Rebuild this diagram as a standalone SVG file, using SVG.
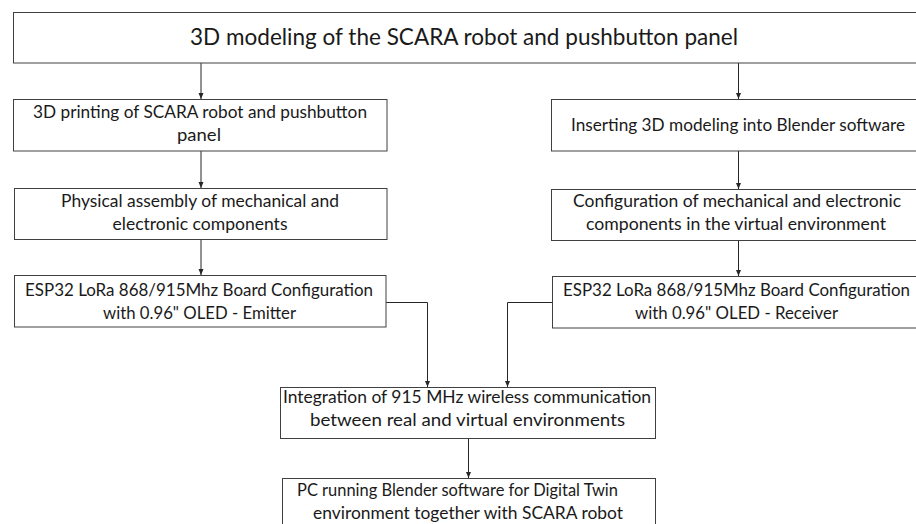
<svg xmlns="http://www.w3.org/2000/svg" width="916" height="524" viewBox="0 0 916 524">
<defs>
<style>
.box{fill:#fff;stroke:#404040;stroke-width:1}
.t{font-family:Lato,"Open Sans","Liberation Sans",sans-serif;font-size:16.5px;fill:#1a1a1a;text-anchor:middle}
.title{font-size:23px}
.c{fill:none;stroke:#262626;stroke-width:1}
</style>
<marker id="ah" markerUnits="userSpaceOnUse" markerWidth="6" markerHeight="6" viewBox="0 0 6 6" refX="6" refY="3" orient="auto">
<path d="M0,0.5 L6,3 L0,5.5 Z" fill="#262626"/>
</marker>
</defs>
<rect width="916" height="524" fill="#fff"/>
<g id="connectors">
<path class="c" d="M201,63 V99" marker-end="url(#ah)"/>
<path class="c" d="M201,151 V188" marker-end="url(#ah)"/>
<path class="c" d="M201,239 V275" marker-end="url(#ah)"/>
<path class="c" d="M738.5,63 V99" marker-end="url(#ah)"/>
<path class="c" d="M738.5,151 V189" marker-end="url(#ah)"/>
<path class="c" d="M738.5,240 V276" marker-end="url(#ah)"/>
<path class="c" d="M386,302.5 H427.5 V387" marker-end="url(#ah)"/>
<path class="c" d="M552,302.5 H507.5 V387" marker-end="url(#ah)"/>
<path class="c" d="M468.5,438 V478" marker-end="url(#ah)"/>
</g>
<g id="n_top">
<rect class="box" x="13.5" y="12.5" width="910" height="50.5"/>
<text class="t title" x="464" y="45" textLength="548" lengthAdjust="spacingAndGlyphs">3D modeling of the SCARA robot and pushbutton panel</text>
</g>
<g id="n_print">
<rect class="box" x="13.5" y="99.5" width="373.5" height="51.5"/>
<text class="t" x="200" y="118" textLength="334" lengthAdjust="spacingAndGlyphs">3D printing of SCARA robot and pushbutton</text>
<text class="t" x="199" y="141" textLength="44" lengthAdjust="spacingAndGlyphs">panel</text>
</g>
<g id="n_assembly">
<rect class="box" x="14.5" y="188.5" width="372.5" height="51"/>
<text class="t" x="200" y="207" textLength="278" lengthAdjust="spacingAndGlyphs">Physical assembly of mechanical and</text>
<text class="t" x="200" y="230" textLength="175" lengthAdjust="spacingAndGlyphs">electronic components</text>
</g>
<g id="n_emitter">
<rect class="box" x="14.5" y="275.5" width="371.5" height="51.5"/>
<text class="t" x="199" y="296" textLength="348" lengthAdjust="spacingAndGlyphs">ESP32 LoRa 868/915Mhz Board Configuration</text>
<text class="t" x="199.5" y="319" textLength="193" lengthAdjust="spacingAndGlyphs">with 0.96" OLED - Emitter</text>
</g>
<g id="n_insert">
<rect class="box" x="551.5" y="99.5" width="380" height="51.5"/>
<text class="t" x="738" y="131" textLength="334" lengthAdjust="spacingAndGlyphs">Inserting 3D modeling into Blender software</text>
</g>
<g id="n_config">
<rect class="box" x="551.5" y="189.5" width="380" height="51"/>
<text class="t" x="737" y="207" textLength="328" lengthAdjust="spacingAndGlyphs">Configuration of mechanical and electronic</text>
<text class="t" x="736" y="230" textLength="300" lengthAdjust="spacingAndGlyphs">components in the virtual environment</text>
</g>
<g id="n_receiver">
<rect class="box" x="552.5" y="276.5" width="380" height="51.5"/>
<text class="t" x="736.5" y="296" textLength="347" lengthAdjust="spacingAndGlyphs">ESP32 LoRa 868/915Mhz Board Configuration</text>
<text class="t" x="736.5" y="319" textLength="203" lengthAdjust="spacingAndGlyphs">with 0.96" OLED - Receiver</text>
</g>
<g id="n_integration">
<rect class="box" x="280.5" y="387.5" width="375" height="51"/>
<text class="t" x="467" y="403" textLength="368" lengthAdjust="spacingAndGlyphs">Integration of 915 MHz wireless communication</text>
<text class="t" x="467.5" y="426" textLength="315" lengthAdjust="spacingAndGlyphs">between real and virtual environments</text>
</g>
<g id="n_pc">
<rect class="box" x="282.5" y="478.5" width="373" height="60"/>
<text class="t" x="457.5" y="496" textLength="321" lengthAdjust="spacingAndGlyphs">PC running Blender software for Digital Twin</text>
<text class="t" x="468" y="519" textLength="310" lengthAdjust="spacingAndGlyphs">environment together with SCARA robot</text>
</g>
</svg>
